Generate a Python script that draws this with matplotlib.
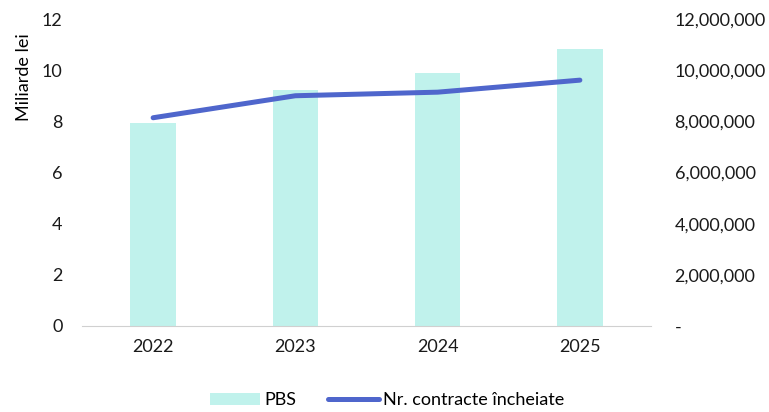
import matplotlib.pyplot as plt
import matplotlib.ticker as mticker

years = ['2022', '2023', '2024', '2025']
pbs = [7.95, 9.22, 9.9, 10.82]
contracte = [8140000, 9000000, 9140000, 9610000]

plt.rcParams['font.family'] = ['Lato', 'DejaVu Sans']

fig = plt.figure(figsize=(7.69, 4.12), dpi=100)
ax = fig.add_axes([82 / 769, 1 - 326 / 412, 569 / 769, 307 / 412])
ax2 = ax.twinx()

x = range(len(years))
ax.bar(x, pbs, width=0.32, color='#c0f2ec', label='PBS')
ax2.plot(x, contracte, color='#4f66cc', linewidth=3.6, solid_capstyle='round',
         label='Nr. contracte încheiate')

ax.set_xlim(-0.5, 3.5)
ax.set_ylim(0, 12)
ax.set_yticks(range(0, 13, 2))
ax2.set_ylim(0, 12000000)
ax2.set_yticks(range(0, 12000001, 2000000))
ax2.yaxis.set_major_formatter(mticker.FuncFormatter(
    lambda v, p: '-' if v == 0 else f'{int(v):,}'))

ax.set_xticks(list(x))
ax.set_xticklabels(years)
ax.set_ylabel('Miliarde lei', fontsize=13)
ax.yaxis.set_label_coords(-0.087, 0.81)

for a in (ax, ax2):
    for s in a.spines.values():
        s.set_visible(False)
    a.tick_params(length=0, labelsize=13, colors='#1a1a1a')
ax.spines['bottom'].set_visible(True)
ax.spines['bottom'].set_color('#d0d0d0')
ax.tick_params(axis='y', pad=14)
ax.tick_params(axis='x', pad=9)
ax2.tick_params(axis='y', pad=17)

h1, l1 = ax.get_legend_handles_labels()
h2, l2 = ax2.get_legend_handles_labels()
fig.legend(h1 + h2, l1 + l2, loc='center', bbox_to_anchor=(0.503, 0.028),
           ncol=2, frameon=False, fontsize=13, handlelength=2.8,
           handletextpad=0.2, columnspacing=1.8)

fig.savefig('out.png', dpi=100)
